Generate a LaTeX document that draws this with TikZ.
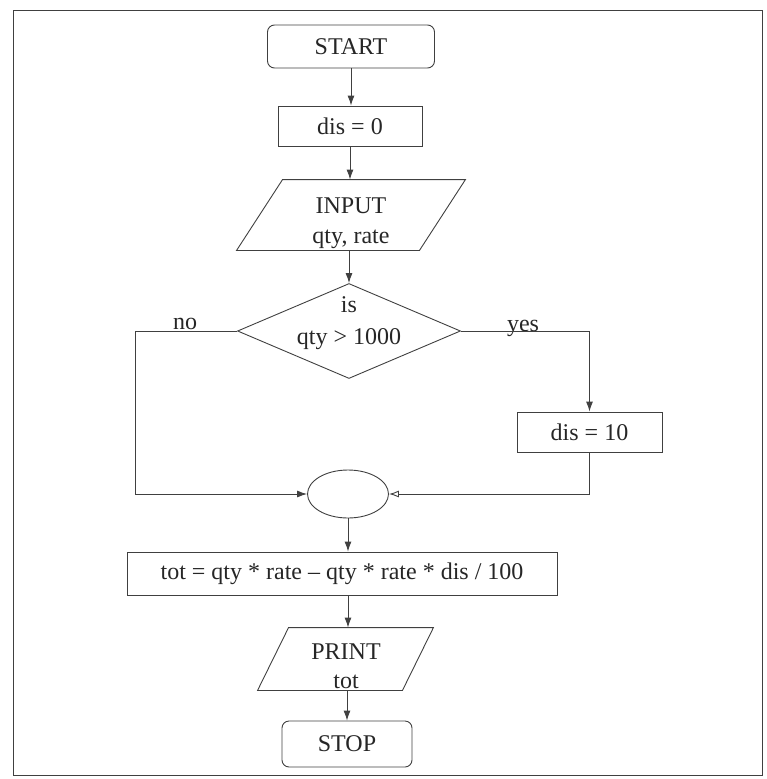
\documentclass[tikz,border=0pt]{standalone}
\usepackage{fontspec}
\setmainfont{Liberation Serif}
\usetikzlibrary{shapes.geometric,arrows.meta,calc}
\begin{document}
\begin{tikzpicture}[x=1pt,y=-1pt,
  line width=0.9pt,
  every node/.style={font=\fontsize{24}{28}\selectfont, text=black!85},
  ln/.style={draw=black!75},
  proc/.style={draw=black!75, rectangle, inner sep=0pt},
  term/.style={draw=black!75, rectangle, rounded corners=7pt, inner sep=0pt},
  iobody/.style={rectangle, inner sep=0pt},
  dec/.style={draw=black!75, diamond, inner sep=0pt, aspect=2.35},
  joinell/.style={draw=black!75, ellipse, inner sep=0pt},
  arr/.style={draw=black!75, -{Latex[length=10pt,width=7pt]}},
  arro/.style={draw=black!75, -{Latex[open,length=10pt,width=7pt]}}]
\useasboundingbox (0,0) rectangle (766,779);
\draw[ln] (13,10) rectangle (762,775);

\node[term, minimum width=167pt, minimum height=43pt] (start) at (351,46.5) {START};
\node[proc, minimum width=144pt, minimum height=40pt] (dis0) at (350,126) {dis = 0};

\node[iobody, minimum width=182pt, minimum height=70pt] (inp) at (351,215) {};
\draw[ln] ($(inp.north west)+(23,0)$) -- ($(inp.north east)+(23,0)$) -- ($(inp.south east)+(-23,0)$) -- ($(inp.south west)+(-23,0)$) -- cycle;
\node[align=center, font=\fontsize{24}{30}\selectfont] (inptxt) at (351,223) {INPUT\\qty, rate};

\node[dec, minimum width=223pt, minimum height=95pt] (dia) at (349,331) {};
\node[align=center, font=\fontsize{24}{32}\selectfont] (dtxt) at (349,323) {is\\qty > 1000};

\node[proc, minimum width=145pt, minimum height=40pt] (dis10) at (589.5,432) {dis = 10};
\node[joinell, minimum width=81pt, minimum height=48pt] (ell) at (348,494) {};
\node[proc, minimum width=430pt, minimum height=43pt] (tot) at (342,573.5) {tot = qty * rate – qty * rate * dis / 100};

\node[iobody, minimum width=144pt, minimum height=62pt] (prt) at (345.5,659) {};
\draw[ln] ($(prt.north west)+(15.5,0)$) -- ($(prt.north east)+(15.5,0)$) -- ($(prt.south east)+(-15.5,0)$) -- ($(prt.south west)+(-15.5,0)$) -- cycle;
\node[align=center, font=\fontsize{24}{29}\selectfont] (prttxt) at (346,666) {PRINT\\tot};

\node[term, minimum width=130pt, minimum height=46pt] (stop) at (347,744) {STOP};

\node[anchor=base] (nolab) at (185,329) {no};
\node[anchor=base] (yeslab) at (523,331) {yes};
\coordinate (nol) at (135,331);

\draw[arr] (start.south) -- (start.south |- dis0.north);
\draw[arr] (dis0.south) -- (dis0.south |- inp.north);
\draw[arr] (dia.north |- inp.south) -- (dia.north);
\draw[arr] (dia.west) -- (nol) |- (ell.west);
\draw[arr] (dia.east) -| (dis10.north);
\draw[arro] (dis10.south) |- (ell.east);
\draw[arr] (ell.south) -- (ell.south |- tot.north);
\draw[arr] (ell.south |- tot.south) -- (ell.south |- prt.north);
\draw[arr] (stop.north |- prt.south) -- (stop.north);
\end{tikzpicture}
\end{document}
